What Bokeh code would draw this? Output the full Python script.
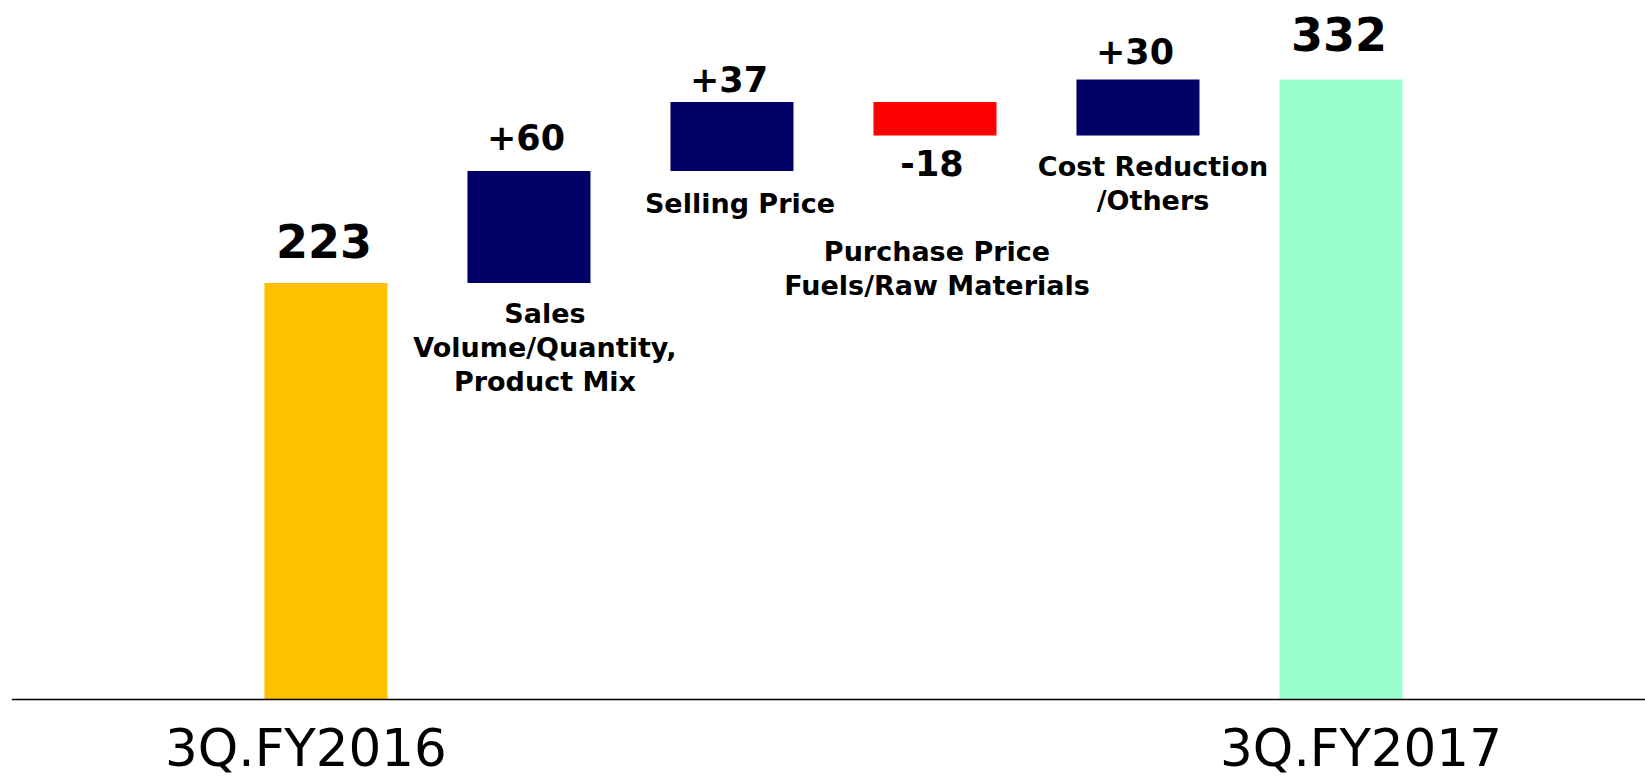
import numpy as np
from bokeh.plotting import figure
from bokeh.models import Range1d, Span
from bokeh.core.properties import value
from bokeh.embed import file_html
from bokeh.resources import INLINE

# ---- data ----
period_labels = ["3Q.FY2016", "3Q.FY2017"]
start_total = 223
end_total = 332
step_labels = ["Sales\nVolume/Quantity,\nProduct Mix", "Selling Price",
               "Purchase Price\nFuels/Raw Materials", "Cost Reduction\n/Others"]
step_values = [60, 37, -18, 30]

# ---- styles ----
C_START = "#FFC000"
C_END = "#99FFCC"
C_UP = "#000066"
C_DOWN = "#FF0000"
FONT = value("DejaVu Sans")

n = len(step_values) + 2
xs = np.arange(n)
levels = start_total + np.cumsum([0] + step_values)
step_bottom = np.minimum(levels[:-1], levels[1:])
step_top = np.maximum(levels[:-1], levels[1:])

p = figure(width=1645, height=779, output_backend="svg", toolbar_location=None,
           x_range=Range1d(-1.549, 6.500), y_range=Range1d(-42.84, 374.3),
           x_axis_location=None, y_axis_location=None,
           min_border_left=11, min_border_right=0, min_border_top=0, min_border_bottom=0)
p.grid.visible = False
p.outline_line_color = None
p.background_fill_color = "white"

W = 0.606
# total bars
p.vbar(x=[xs[0]], bottom=0, top=[start_total], width=W, fill_color=C_START, line_color=None)
p.vbar(x=[xs[-1]], bottom=0, top=[end_total], width=W, fill_color=C_END, line_color=None)
# step bars
step_x = xs[1:-1]
step_colors = [C_UP if v >= 0 else C_DOWN for v in step_values]
p.vbar(x=step_x, bottom=step_bottom, top=step_top, width=W, fill_color=step_colors, line_color=None)

p.add_layout(Span(location=0, dimension="width", line_color="black", line_width=1.5))

# total value labels
tot_off = [-59, -62]
for i, (xv, yv) in enumerate([(xs[0], start_total), (xs[-1], end_total)]):
    p.text(x=[xv], y=[yv], text=[str(yv)], text_align="center", text_baseline="top",
           x_offset=-2, y_offset=tot_off[i], text_font=FONT, text_font_style="bold",
           text_font_size="46px", text_color="black")

# step value labels
val_off = [-47, -36, 14, -41]
for i, v in enumerate(step_values):
    txt = ("+" if v > 0 else "-") + str(abs(v))
    yv = step_top[i] if v >= 0 else step_bottom[i]
    p.text(x=[step_x[i]], y=[yv], text=[txt], text_align="center", text_baseline="top",
           x_offset=-3, y_offset=val_off[i], text_font=FONT, text_font_style="bold",
           text_font_size="35px", text_color="black")

# step name labels
name_dx = [16, 8, 2, 15]
name_dy = [14.5, 16.5, 100, 15]
for i, lab in enumerate(step_labels):
    p.text(x=[step_x[i]], y=[step_bottom[i]], text=[lab], text_align="center", text_baseline="top",
           x_offset=name_dx[i], y_offset=name_dy[i], text_font=FONT, text_font_style="bold",
           text_font_size="27px", text_line_height=1.1, text_color="black")

# period labels
per_dx = [-20, 20]
for i, (xv, lab) in enumerate(zip([xs[0], xs[-1]], period_labels)):
    p.text(x=[xv], y=[0], text=[lab], text_align="center", text_baseline="top",
           x_offset=per_dx[i], y_offset=19, text_font=FONT, text_font_size="51.5px",
           text_color="black")

open("out.html", "w").write(file_html(p, INLINE))
